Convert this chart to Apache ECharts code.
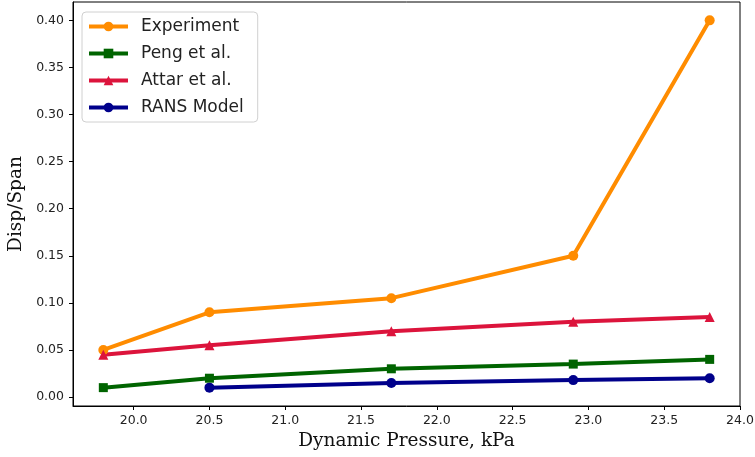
<!DOCTYPE html>
<html>
<head>
<meta charset="utf-8">
<script src="https://cdn.jsdelivr.net/npm/echarts@6/dist/echarts.min.js"></script>
<style>html,body{margin:0;padding:0;background:#fff;}#c{width:755px;height:457px;}</style>
</head>
<body>
<div id="c"></div>
<script>
const pressure = [19.8, 20.5, 21.7, 22.9, 23.8];
const experiment = [0.05, 0.09, 0.105, 0.15, 0.40];
const peng = [0.01, 0.02, 0.03, 0.035, 0.04];
const attar = [0.045, 0.055, 0.07, 0.08, 0.085];
const ransX = [20.5, 21.7, 22.9, 23.8];
const rans = [0.01, 0.015, 0.018, 0.02];
const xTicks = [20.0, 20.5, 21.0, 21.5, 22.0, 22.5, 23.0, 23.5, 24.0];
const yTicks = [0.00, 0.05, 0.10, 0.15, 0.20, 0.25, 0.30, 0.35, 0.40];

function pairs(xs, ys){ return xs.map((x,i)=>[x, ys[i]]); }

const chart = echarts.init(document.getElementById('c'), null, {renderer:'canvas'});
const tickFont = {fontFamily:'DejaVu Sans', fontSize:12.5, color:'#222'};
function mk(name, xs, ys, color, symbol, size){
  return {name, type:'line', data:pairs(xs, ys), symbol, symbolSize:size,
    showAllSymbol:true,
    lineStyle:{color, width:4}, itemStyle:{color}, z:3};
}
chart.setOption({
  animation:false,
  backgroundColor:'#fff',
  grid:{left:73, right:15, top:2, bottom:51, show:true, borderColor:'#000', borderWidth:1,
        containLabel:false, outerBoundsMode:'none'},
  legend:{
    orient:'vertical', left:82, top:12, padding:[6,14,6,5],
    borderColor:'#d0d0d0', borderWidth:1, borderRadius:4, backgroundColor:'rgba(255,255,255,0.8)',
    itemWidth:39, itemHeight:12, itemGap:10,
    lineStyle:{width:'inherit'},
    textStyle:{fontFamily:'DejaVu Sans', fontSize:17, color:'#222', padding:[0,0,0,8]},
    data:['Experiment','Peng et al.','Attar et al.','RANS Model']
  },
  xAxis:{
    type:'value', min:19.6, max:24.0,
    name:'Dynamic Pressure, kPa', nameLocation:'middle', nameGap:26,
    nameTextStyle:{fontFamily:'DejaVu Serif', fontSize:18.5, color:'#111'},
    axisLine:{show:true, onZero:false, lineStyle:{color:'#000'}},
    axisTick:{show:true, length:4, lineStyle:{color:'#000'}, customValues:xTicks},
    axisLabel:{...tickFont, margin:8, customValues:xTicks, formatter:v=>v.toFixed(1)},
    splitLine:{show:false}
  },
  yAxis:{
    type:'value', min:-0.0095, max:0.4195,
    name:'Disp/Span', nameLocation:'middle', nameGap:43, nameRotate:90,
    nameTextStyle:{fontFamily:'DejaVu Serif', fontSize:18.5, color:'#111'},
    axisLine:{show:true, onZero:false, lineStyle:{color:'#000'}},
    axisTick:{show:true, length:4, lineStyle:{color:'#000'}, customValues:yTicks},
    axisLabel:{...tickFont, margin:9, customValues:yTicks, formatter:v=>v.toFixed(2)},
    splitLine:{show:false}
  },
  series:[
    mk('Experiment', pressure, experiment, '#FF8C00', 'circle', 10),
    mk('Peng et al.', pressure, peng, '#006400', 'rect', 9),
    mk('Attar et al.', pressure, attar, '#DC143C', 'triangle', 10),
    mk('RANS Model', ransX, rans, '#00008B', 'circle', 10)
  ]
});
</script>
</body>
</html>
